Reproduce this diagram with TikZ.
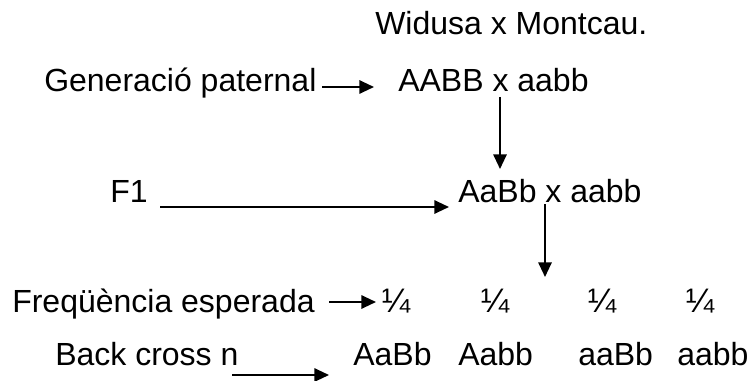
\documentclass[tikz,border=0pt]{standalone}
\usepackage{fontspec}
\setmainfont{Liberation Sans}
\usetikzlibrary{arrows.meta}
\begin{document}
\begin{tikzpicture}[x=0.75pt,y=-0.75pt,
  lbl/.style={anchor=base west,inner sep=0pt,font=\fontsize{24}{29}\selectfont},
  frac/.style={anchor=base,inner sep=0pt,font=\fontsize{25.5}{29}\selectfont},
  conn/.style={line width=1.5pt,-{Triangle[length=11pt,width=10pt]}}]
\useasboundingbox (0,0) rectangle (752,381);
% texts
\node[lbl] (title) at (375,35) {Widusa x Montcau.};
\node[lbl] (gen) at (44,92) {Generació paternal};
\node[lbl] (p) at (398,92) {AABB x aabb};
\node[lbl] (f1) at (110,202) {F1};
\node[lbl] (f1c) at (458,202) {AaBb x aabb};
\node[lbl] (freq) at (12,312) {Freqüència esperada};
\node[frac] (q1) at (396,312) {¼};
\node[frac] (q2) at (495,312) {¼};
\node[frac] (q3) at (602,312) {¼};
\node[frac] (q4) at (700,312) {¼};
\node[lbl] (bc) at (55,365) {Back cross n};
\node[lbl] (g1) at (353,365) {AaBb};
\node[lbl] (g2) at (458,365) {Aabb};
\node[lbl] (g3) at (578,365) {aaBb};
\node[lbl] (g4) at (677,365) {aabb};
% connector ends
\coordinate (a1s) at (322,87);
\coordinate (a1e) at (374,87);
\coordinate (a2s) at (500,97);
\coordinate (a2e) at (500,169);
\coordinate (a3s) at (160,207);
\coordinate (a3e) at (449,207);
\coordinate (a4s) at (545,204);
\coordinate (a4e) at (545,277);
\coordinate (a5s) at (329,302);
\coordinate (a5e) at (376,302);
\coordinate (a6s) at (232,375);
\coordinate (a6e) at (329,375);
% connectors
\draw[conn] (a1s) -- (a1e);
\draw[conn] (a2s) -- (a2e);
\draw[conn] (a3s) -- (a3e);
\draw[conn] (a4s) -- (a4e);
\draw[conn] (a5s) -- (a5e);
\draw[conn] (a6s) -- (a6e);
\end{tikzpicture}
\end{document}
